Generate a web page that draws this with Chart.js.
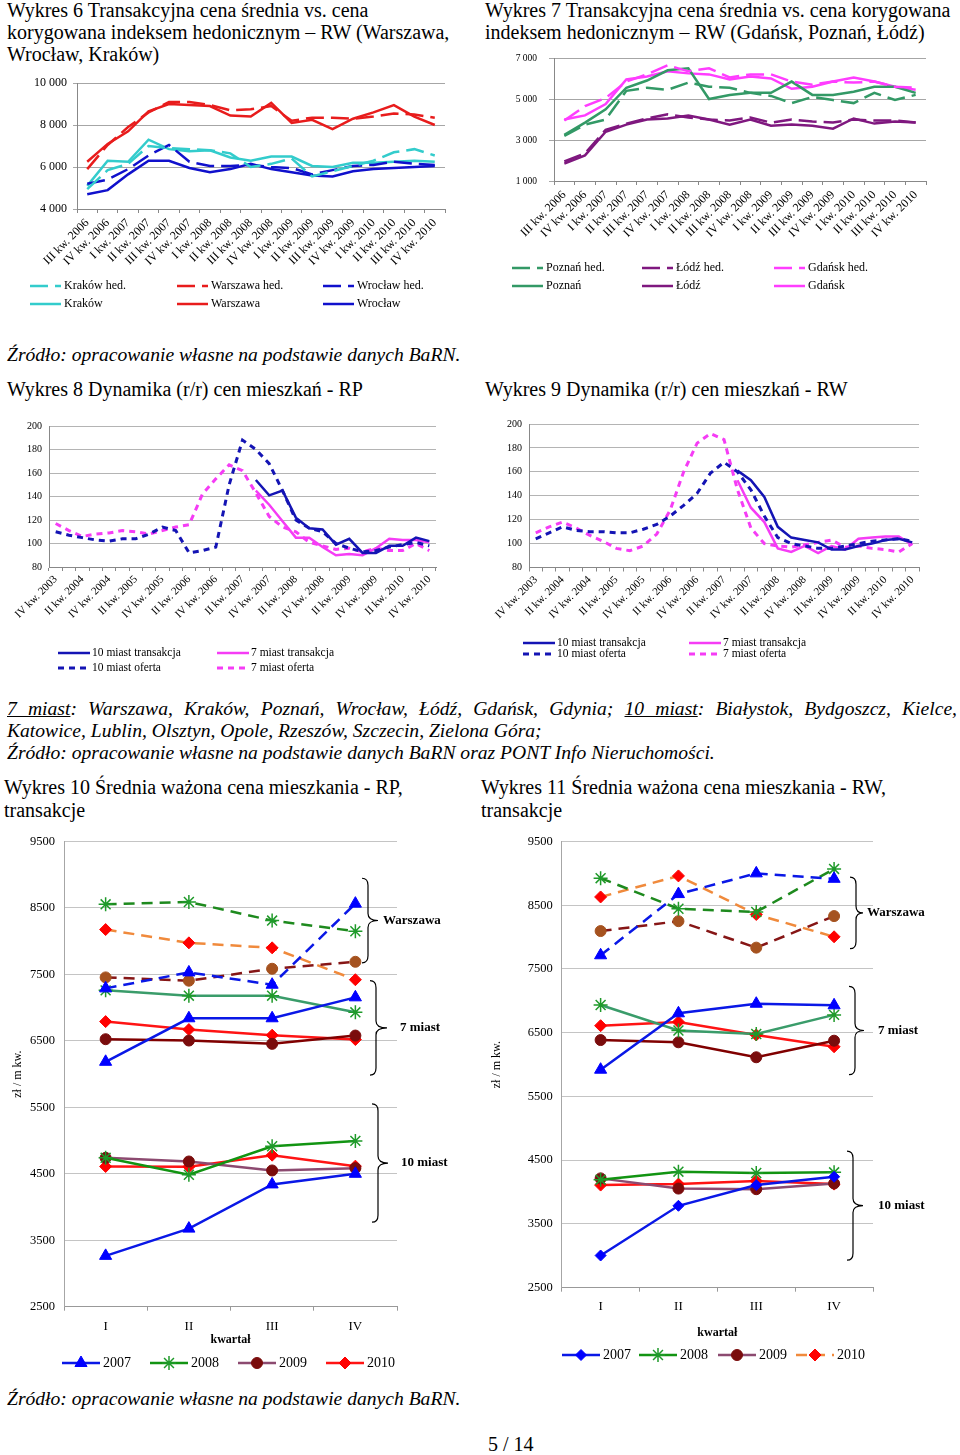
<!DOCTYPE html>
<html><head><meta charset="utf-8">
<script src="https://cdn.jsdelivr.net/npm/chart.js@4.4.1/dist/chart.umd.min.js"></script>
<style>
html,body{margin:0;padding:0;background:#fff;}
#page{position:relative;width:960px;height:1455px;overflow:hidden;font-family:'Liberation Serif','Times New Roman',serif;color:#000;}
.t{position:absolute;font-size:20px;line-height:22px;white-space:nowrap;}
.i{font-style:italic;font-size:19.6px;}
canvas{position:absolute;}
</style></head>
<body><div id="page">
<div class="t" style="left:7px;top:-1px">Wykres 6 Transakcyjna cena średnia vs. cena<br>korygowana indeksem hedonicznym – RW (Warszawa,<br>Wrocław, Kraków)</div>
<div class="t" style="left:485px;top:-1px">Wykres 7 Transakcyjna cena średnia vs. cena korygowana<br>indeksem hedonicznym – RW (Gdańsk, Poznań, Łódź)</div>
<div class="t i" style="left:7px;top:344px">Źródło: opracowanie własne na podstawie danych BaRN.</div>
<div class="t" style="left:7px;top:378px">Wykres 8 Dynamika (r/r) cen mieszkań - RP</div>
<div class="t" style="left:485px;top:378px">Wykres 9 Dynamika (r/r) cen mieszkań - RW</div>
<div class="t i" style="left:7px;top:698px;width:950px;white-space:normal;text-align:justify;text-align-last:justify"><u>7 miast</u>: Warszawa, Kraków, Poznań, Wrocław, Łódź, Gdańsk, Gdynia; <u>10 miast</u>: Białystok, Bydgoszcz, Kielce,</div>
<div class="t i" style="left:7px;top:720px">Katowice, Lublin, Olsztyn, Opole, Rzeszów, Szczecin, Zielona Góra;</div>
<div class="t i" style="left:7px;top:742px">Źródło: opracowanie własne na podstawie danych BaRN oraz PONT Info Nieruchomości.</div>
<div class="t" style="left:4px;top:776px;line-height:23px">Wykres 10 Średnia ważona cena mieszkania - RP,<br>transakcje</div>
<div class="t" style="left:481px;top:776px;line-height:23px">Wykres 11 Średnia ważona cena mieszkania - RW,<br>transakcje</div>
<div class="t i" style="left:7px;top:1388px">Źródło: opracowanie własne na podstawie danych BaRN.</div>
<div class="t" style="left:488px;top:1433px">5 / 14</div>

<canvas id="c6" width="480" height="260" style="left:0px;top:60px"></canvas>
<canvas id="c7" width="480" height="260" style="left:480px;top:40px"></canvas>
<canvas id="c8" width="480" height="270" style="left:0px;top:410px"></canvas>
<canvas id="c9" width="480" height="260" style="left:480px;top:410px"></canvas>
<canvas id="c10" width="480" height="560" style="left:0px;top:825px"></canvas>
<canvas id="c11" width="480" height="550" style="left:480px;top:825px"></canvas>
</div>
<script>
// ---------- DATA ----------
const q6Labels = ['III kw. 2006','IV kw. 2006','I kw. 2007','II kw. 2007','III kw. 2007','IV kw. 2007','I kw. 2008','II kw. 2008','III kw. 2008','IV kw. 2008','I kw. 2009','II kw. 2009','III kw. 2009','IV kw. 2009','I kw. 2010','II kw. 2010','III kw. 2010','IV kw. 2010'];
const c6KrakowHed   = [4950,5850,6150,7000,6900,6850,6800,6650,6000,6150,6400,5550,5800,6050,6300,6700,6850,6550];
const c6WarszawaHed = [5900,7050,7900,8600,9100,9100,8950,8700,8750,8900,8200,8350,8350,8300,8400,8550,8500,8350];
const c6WroclawHed  = [5200,5400,5900,6550,7050,6250,6050,6050,6100,6000,5950,5650,5850,6050,6100,6250,6150,6100];
const c6Krakow      = [5100,6300,6250,7300,6850,6750,6800,6450,6300,6500,6500,6050,6000,6200,6200,6250,6300,6250];
const c6Warszawa    = [6250,7100,7700,8650,9000,8950,8900,8450,8400,9050,8100,8250,7800,8300,8600,8950,8400,8000];
const c6Wroclaw     = [4700,4900,5650,6300,6300,5950,5750,5900,6150,5900,5750,5600,5550,5800,5900,5950,6000,6050];

const c7PoznanHed = [3200,3750,4000,5400,5550,5450,5800,5600,5550,5300,5150,4800,5100,4950,4800,5300,4950,5200];
const c7LodzHed   = [1950,2350,3500,3800,4050,4250,4100,4000,3950,4100,3850,4000,3900,3850,4000,3950,3950,3850];
const c7GdanskHed = [3950,4650,5050,5850,6200,6650,6350,6500,6050,6200,6200,5850,5700,5850,5800,5850,5600,5550];
const c7Poznan    = [3250,3850,4500,5550,5900,6400,6500,5000,5200,5300,5300,5850,5200,5200,5350,5600,5600,5300];
const c7Lodz      = [1850,2250,3400,3750,4000,4050,4200,4000,3750,4000,3700,3750,3700,3550,4050,3800,3900,3850];
const c7Gdansk    = [4000,4200,4750,5950,6100,6350,6250,6200,5950,6100,6000,5500,5600,5850,6050,5850,5600,5450];

const q8Labels = ['IV kw. 2003','I kw. 2004','II kw. 2004','III kw. 2004','IV kw. 2004','I kw. 2005','II kw. 2005','III kw. 2005','IV kw. 2005','I kw. 2006','II kw. 2006','III kw. 2006','IV kw. 2006','I kw. 2007','II kw. 2007','III kw. 2007','IV kw. 2007','I kw. 2008','II kw. 2008','III kw. 2008','IV kw. 2008','I kw. 2009','II kw. 2009','III kw. 2009','IV kw. 2009','I kw. 2010','II kw. 2010','III kw. 2010','IV kw. 2010'];
const c8Trans10  = [null,null,null,null,null,null,null,null,null,null,null,null,null,null,null,154,141,145,122,113,112,99,104,92,92,98,98,105,102];
const c8Oferta10 = [110,107,105,103,102,104,104,108,114,111,92,94,97,150,188,180,168,145,120,113,110,100,96,93,94,97,99,101,98];
const c8Trans7   = [null,null,null,null,null,null,null,null,null,null,null,null,null,null,null,145,133,119,105,105,97,90,91,90,96,104,103,103,101];
const c8Oferta7  = [117,111,106,108,109,111,110,108,111,114,116,142,155,167,162,143,123,114,110,101,98,95,96,93,96,94,94,100,94];

const c9Trans10  = [null,null,null,null,null,null,null,null,null,null,null,null,null,null,null,161,153,139,114,105,103,101,95,95,98,100,103,104,101];
const c9Oferta10 = [104,109,114,111,110,110,109,109,112,116,123,132,142,159,168,160,145,123,105,100,98,96,96,98,100,102,103,104,102];
const c9Trans7   = [null,null,null,null,null,null,null,null,null,null,null,null,null,null,null,153,130,118,96,93,98,92,98,95,104,105,106,106,99];
const c9Oferta7  = [109,114,118,113,107,102,96,94,98,108,128,160,184,192,187,145,113,100,98,97,99,101,103,97,98,96,95,93,100];

const kwartaly = ['I','II','III','IV'];
const lata = ['2007','2008','2009','2010'];
// Wykres 10 (RP)
const c10Warszawa = [[7290,7530,7345,8565],[8555,8590,8310,8150],[7455,7405,7585,7690],[8175,7975,7900,7420]];
const c10Miast7   = [[6185,6840,6840,7155],[7260,7180,7180,6930],[6525,6505,6455,6580],[6790,6670,6585,6520]];
const c10Miast10  = [[3265,3675,4340,4500],[4740,4485,4915,4995],[4740,4685,4550,4585],[4610,4605,4780,4615]];
const c10Braces   = [['Warszawa',8947,7675],['7 miast',7406,5985],['10 miast',5551,3772]];
// Wykres 11 (RW)
const c11Warszawa = [[7715,8675,9000,8915],[8925,8445,8395,9070],[8095,8250,7835,8330],[8630,8960,8355,8005]];
const c11Miast7   = [[5920,6805,6955,6930],[6935,6535,6480,6780],[6385,6350,6115,6375],[6610,6670,6465,6280]];
const c11Miast10  = [[3005,3785,4110,4240],[4195,4320,4300,4310],[4215,4055,4045,4135],[4110,4125,4175,4125]];
const c11Braces   = [['Warszawa',8940,7819],['7 miast',7228,5842],['10 miast',4644,2932]];

// ---------- HELPERS ----------
const SERIF = "'Liberation Serif','Times New Roman',serif";
Chart.defaults.font.family = SERIF;
Chart.defaults.color = '#000';

function drawMarker(ctx, style, r, x, y, fill, stroke, bw) {
  ctx.save();
  ctx.setLineDash([]);
  ctx.fillStyle = fill; ctx.strokeStyle = stroke; ctx.lineWidth = bw;
  ctx.beginPath();
  if (style === 'circle') { ctx.arc(x, y, r, 0, Math.PI * 2); ctx.fill(); ctx.stroke(); }
  else if (style === 'triangle') {
    for (let k = 0; k < 3; k++) { const a = -Math.PI / 2 + k * 2 * Math.PI / 3; const px = x + r * Math.cos(a), py = y + r * Math.sin(a); if (k) ctx.lineTo(px, py); else ctx.moveTo(px, py); }
    ctx.closePath(); ctx.fill(); ctx.stroke();
  } else if (style === 'rectRot') {
    ctx.moveTo(x, y - r); ctx.lineTo(x + r, y); ctx.lineTo(x, y + r); ctx.lineTo(x - r, y); ctx.closePath(); ctx.fill(); ctx.stroke();
  } else if (style === 'star') {
    for (let k = 0; k < 4; k++) { const a = k * Math.PI / 4; ctx.moveTo(x - r * Math.cos(a), y - r * Math.sin(a)); ctx.lineTo(x + r * Math.cos(a), y + r * Math.sin(a)); }
    ctx.stroke();
  }
  ctx.restore();
}

const legendPlugin = {
  id: 'customLegend',
  afterDraw(chart, args, opts) {
    if (!opts || !opts.items) return;
    const ctx = chart.ctx;
    for (const it of opts.items) {
      const ds = chart.data.datasets[it.ds];
      const lds = it.lineDs != null ? chart.data.datasets[it.lineDs] : ds;
      const sw = opts.sampleWidth;
      ctx.save();
      ctx.strokeStyle = lds.borderColor; ctx.lineWidth = lds.borderWidth;
      ctx.setLineDash(it.dash || lds.borderDash || []);
      ctx.beginPath(); ctx.moveTo(it.x, it.y); ctx.lineTo(it.x + sw, it.y); ctx.stroke();
      ctx.restore();
      if (opts.markers && ds.pointStyle) {
        drawMarker(ctx, ds.pointStyle, ds.pointRadius, it.x + sw / 2, it.y, ds.pointBackgroundColor, ds.pointBorderColor, ds.pointBorderWidth || 1);
      }
      ctx.save();
      ctx.fillStyle = '#000'; ctx.font = opts.font; ctx.textBaseline = 'middle'; ctx.textAlign = 'left';
      ctx.fillText(it.text || ds.label, it.x + sw + opts.gap, it.y);
      ctx.restore();
    }
  }
};

const bracePlugin = {
  id: 'braces',
  afterDraw(chart, args, opts) {
    if (!opts || !opts.items) return;
    const ctx = chart.ctx, ys = chart.scales.y, R = chart.chartArea.right;
    ctx.save();
    ctx.strokeStyle = '#000'; ctx.lineWidth = 1.2;
    for (const b of opts.items) {
      const y1 = ys.getPixelForValue(b.from), y2 = ys.getPixelForValue(b.to), ym = (y1 + y2) / 2;
      const xs = R + b.dx, tip = xs + b.w, c = 7;
      ctx.beginPath();
      ctx.moveTo(xs - 6, y1);
      ctx.quadraticCurveTo(xs, y1, xs, y1 + c);
      ctx.lineTo(xs, ym - c);
      ctx.quadraticCurveTo(xs, ym, tip, ym);
      ctx.quadraticCurveTo(xs, ym, xs, ym + c);
      ctx.lineTo(xs, y2 - c);
      ctx.quadraticCurveTo(xs, y2, xs - 6, y2);
      ctx.stroke();
      ctx.fillStyle = '#000'; ctx.font = 'bold 13px ' + SERIF; ctx.textBaseline = 'middle'; ctx.textAlign = 'left';
      ctx.fillText(b.label, R + b.lx, ym + (b.ly || 0));
    }
    ctx.restore();
  }
};

function fmtSpace(v) { return String(v).replace(/\B(?=(\d{3})+(?!\d))/g, ' '); }
function fmtPlain(v) { return String(v); }

function makeChart(id, area, labels, datasets, opt) {
  return new Chart(document.getElementById(id), {
    type: 'line',
    data: { labels, datasets },
    options: {
      responsive: false, animation: false, events: [],
      layout: { padding: { left: 0, top: area.top, right: area.W - area.right, bottom: area.H - area.bottom - area.xh } },
      elements: { line: { tension: 0 }, point: { radius: 0 } },
      plugins: { legend: { display: false }, tooltip: { enabled: false }, customLegend: opt.legend, braces: opt.braces || {} },
      scales: {
        x: Object.assign({}, opt.x, { afterFit: s => { s.height = area.xh; } }),
        y: Object.assign({}, opt.y, { afterFit: s => { s.width = area.left; } })
      }
    },
    plugins: [legendPlugin, bracePlugin]
  });
}

function line(label, data, color, width, dash) {
  return { label, data, borderColor: color, backgroundColor: color, borderWidth: width, borderDash: dash || [], pointRadius: 0, fill: false, spanGaps: false };
}

// ---------- WYKRES 6 ----------
const C_KRK = '#33cccc', C_WAW = '#e81c1c', C_WRO = '#1010cc';
const D6 = [18, 7];
makeChart('c6', { left: 77, top: 23, right: 445, bottom: 149, W: 480, H: 260, xh: 111 }, q6Labels, [
  line('Kraków hed.', c6KrakowHed, C_KRK, 2.5, D6),
  line('Warszawa hed.', c6WarszawaHed, C_WAW, 2.5, D6),
  line('Wrocław hed.', c6WroclawHed, C_WRO, 2.5, D6),
  line('Kraków', c6Krakow, C_KRK, 2.5),
  line('Warszawa', c6Warszawa, C_WAW, 2.5),
  line('Wrocław', c6Wroclaw, C_WRO, 2.5)
], {
  x: { offset: true, grid: { offset: true, drawOnChartArea: false, tickLength: 4, color: '#888' }, border: { color: '#888' },
       ticks: { autoSkip: false, maxRotation: 45, minRotation: 45, padding: 3, font: { size: 12 } } },
  y: { min: 4000, max: 10000, ticks: { stepSize: 2000, padding: 6, font: { size: 12 }, callback: fmtSpace },
       grid: { color: '#a6a6a6', tickLength: 4 }, border: { color: '#888' } },
  legend: { sampleWidth: 31, gap: 3, font: '12px ' + SERIF, items: [
    { ds: 0, x: 30, y: 226 }, { ds: 1, x: 177, y: 226 }, { ds: 2, x: 323, y: 226 },
    { ds: 3, x: 30, y: 244 }, { ds: 4, x: 177, y: 244 }, { ds: 5, x: 323, y: 244 } ] }
});

// ---------- WYKRES 7 ----------
const C_POZ = '#339966', C_LDZ = '#7f187f', C_GDA = '#ff3dff';
makeChart('c7', { left: 74, top: 18, right: 446, bottom: 141, W: 480, H: 260, xh: 119 }, q6Labels, [
  line('Poznań hed.', c7PoznanHed, C_POZ, 2.5, D6),
  line('Łódź hed.', c7LodzHed, C_LDZ, 2.5, D6),
  line('Gdańsk hed.', c7GdanskHed, C_GDA, 2.5, D6),
  line('Poznań', c7Poznan, C_POZ, 2.5),
  line('Łódź', c7Lodz, C_LDZ, 2.5),
  line('Gdańsk', c7Gdansk, C_GDA, 2.5)
], {
  x: { offset: true, grid: { offset: true, drawOnChartArea: false, tickLength: 4, color: '#888' }, border: { color: '#888' },
       ticks: { autoSkip: false, maxRotation: 45, minRotation: 45, padding: 3, font: { size: 12 } } },
  y: { min: 1000, max: 7000, ticks: { stepSize: 2000, padding: 12, font: { size: 9.5 }, callback: fmtSpace },
       grid: { color: '#a6a6a6', tickLength: 5 }, border: { color: '#888' } },
  legend: { sampleWidth: 31, gap: 3, font: '12px ' + SERIF, items: [
    { ds: 0, x: 32, y: 228 }, { ds: 1, x: 162, y: 228 }, { ds: 2, x: 294, y: 228 },
    { ds: 3, x: 32, y: 246 }, { ds: 4, x: 162, y: 246 }, { ds: 5, x: 294, y: 246 } ] }
});

// ---------- WYKRES 8 / 9 ----------
const C_10 = '#1414b4', C_7 = '#f53cf5', DOT = [6, 5];
function dynOpts(legendItems) {
  return {
    x: { offset: true, grid: { offset: true, drawOnChartArea: false, tickLength: 4, color: '#888' }, border: { color: '#888' },
         ticks: { autoSkip: false, maxRotation: 45, minRotation: 45, padding: 2, font: { size: 11 },
                  callback: function (v, i) { return i % 2 === 0 ? this.getLabelForValue(v) : ''; } } },
    y: { min: 80, max: 200, ticks: { stepSize: 20, padding: 7, font: { size: 10 } },
         grid: { color: '#b4b4b4', drawTicks: false }, border: { color: '#888' } },
    legend: { sampleWidth: 32, gap: 2, font: '11.5px ' + SERIF, items: legendItems }
  };
}
makeChart('c8', { left: 49, top: 16, right: 436, bottom: 157, W: 480, H: 270, xh: 113 }, q8Labels, [
  line('10 miast transakcja', c8Trans10, C_10, 2.5),
  line('10 miast oferta', c8Oferta10, C_10, 3, DOT),
  line('7 miast transakcja', c8Trans7, C_7, 2.5),
  line('7 miast oferta', c8Oferta7, C_7, 3, DOT)
], dynOpts([{ ds: 0, x: 58, y: 243 }, { ds: 1, x: 58, y: 258 }, { ds: 2, x: 217, y: 243 }, { ds: 3, x: 217, y: 258 }]));

makeChart('c9', { left: 49, top: 14, right: 439, bottom: 157.5, W: 480, H: 260, xh: 102.5 }, q8Labels, [
  line('10 miast transakcja', c9Trans10, C_10, 2.5),
  line('10 miast oferta', c9Oferta10, C_10, 3, DOT),
  line('7 miast transakcja', c9Trans7, C_7, 2.5),
  line('7 miast oferta', c9Oferta7, C_7, 3, DOT)
], dynOpts([{ ds: 0, x: 43, y: 233 }, { ds: 1, x: 43, y: 244 }, { ds: 2, x: 209, y: 233 }, { ds: 3, x: 209, y: 244 }]));

// ---------- WYKRES 10 / 11 ----------
const DASH = [11, 7];
function yearSets(warsz, m7, m10, m10Style07) {
  const blue = '#0a18e6', blueM = '#0000ff';
  const gW = '#1e8a1e', g7 = '#3a9c6a', g10 = '#129412', gM = '#1f9a2a';
  const rW = '#f08a3c', rL = '#ff1414', rM = '#ff0000';
  const brW = '#861616', brM = '#a5521f', dkM = '#7a0c0c', mauve = '#8c4a70';
  function mk(label, data, color, dash, style, r, fillC, strokeC, bw) {
    return { label, data, borderColor: color, backgroundColor: color, borderWidth: 2.5, borderDash: dash || [],
      pointStyle: style, pointRadius: r, pointBackgroundColor: fillC, pointBorderColor: strokeC, pointBorderWidth: bw, fill: false };
  }
  return [
    mk(lata[0], warsz[0], blue, DASH, 'triangle', 7, blueM, blueM, 1),
    mk(lata[1], warsz[1], gW, DASH, 'star', 7, gM, gM, 1.5),
    mk(lata[2], warsz[2], brW, DASH, 'circle', 5.5, brM, brM, 1),
    mk(lata[3], warsz[3], rW, DASH, 'rectRot', 6, rM, rM, 1),
    mk(lata[0], m7[0], blue, null, 'triangle', 7, blueM, blueM, 1),
    mk(lata[1], m7[1], g7, null, 'star', 7, gM, gM, 1.5),
    mk(lata[2], m7[2], '#800000', null, 'circle', 5.5, dkM, dkM, 1),
    mk(lata[3], m7[3], rL, null, 'rectRot', 6, rM, rM, 1),
    mk(lata[0], m10[0], blue, null, m10Style07, m10Style07 === 'triangle' ? 7 : 5.5, blueM, blueM, 1),
    mk(lata[1], m10[1], g10, null, 'star', 7, gM, gM, 1.5),
    mk(lata[2], m10[2], mauve, null, 'circle', 5.5, dkM, dkM, 1),
    mk(lata[3], m10[3], rL, null, 'rectRot', 6, rM, rM, 1)
  ];
}
function priceOpts(area, braceArr, braceGeom, legendItems, tickPad) {
  return {
    x: { offset: true, grid: { offset: true, drawOnChartArea: false, tickLength: 4, color: '#999' }, border: { color: '#999' },
         ticks: { padding: tickPad, font: { size: 13 } },
         title: { display: true, text: 'kwartał', font: { size: 12, weight: 'bold' }, padding: { top: 0, bottom: 0 } } },
    y: { min: 2500, max: 9500, ticks: { stepSize: 1000, padding: 9, font: { size: 12.5 }, callback: fmtPlain },
         grid: { color: '#c4c4c4', drawTicks: false }, border: { color: '#a6a6a6' },
         title: { display: true, text: 'zł / m kw.', font: { size: 12 }, padding: { top: area.yTitle, bottom: 0 } } },
    braces: { items: braceArr.map((b, i) => Object.assign({ label: b[0], from: b[1], to: b[2] }, braceGeom[i])) },
    legend: { sampleWidth: 38, gap: 3, markers: true, font: '14px ' + SERIF, items: legendItems }
  };
}
const a10 = { left: 64, top: 13, right: 397, bottom: 481.7, W: 480, H: 560, xh: 40.5, yTitle: 11 };
makeChart('c10', a10, kwartaly, yearSets(c10Warszawa, c10Miast7, c10Miast10, 'triangle'),
  priceOpts(a10, c10Braces,
    [{ dx: -29, w: 10, lx: -14 }, { dx: -21, w: 11, lx: 3 }, { dx: -19, w: 10, lx: 4 }],
    [{ ds: 8, x: 62, y: 538 }, { ds: 9, x: 150, y: 538 }, { ds: 10, x: 238, y: 538 }, { ds: 11, x: 326, y: 538 }], 8.5));

const a11 = { left: 81.7, top: 13, right: 393, bottom: 462.7, W: 480, H: 550, xh: 52.5, yTitle: 10 };
makeChart('c11', a11, kwartaly, yearSets(c11Warszawa, c11Miast7, c11Miast10, 'rectRot'),
  priceOpts(a11, c11Braces,
    [{ dx: -17, w: 7, lx: -6 }, { dx: -18, w: 9, lx: 5 }, { dx: -20, w: 10, lx: 5 }],
    [{ ds: 8, x: 82, y: 530 }, { ds: 9, x: 159, y: 530 }, { ds: 10, x: 238, y: 530 }, { ds: 3, x: 316, y: 530 }], 7.5));
</script>
</body></html>
